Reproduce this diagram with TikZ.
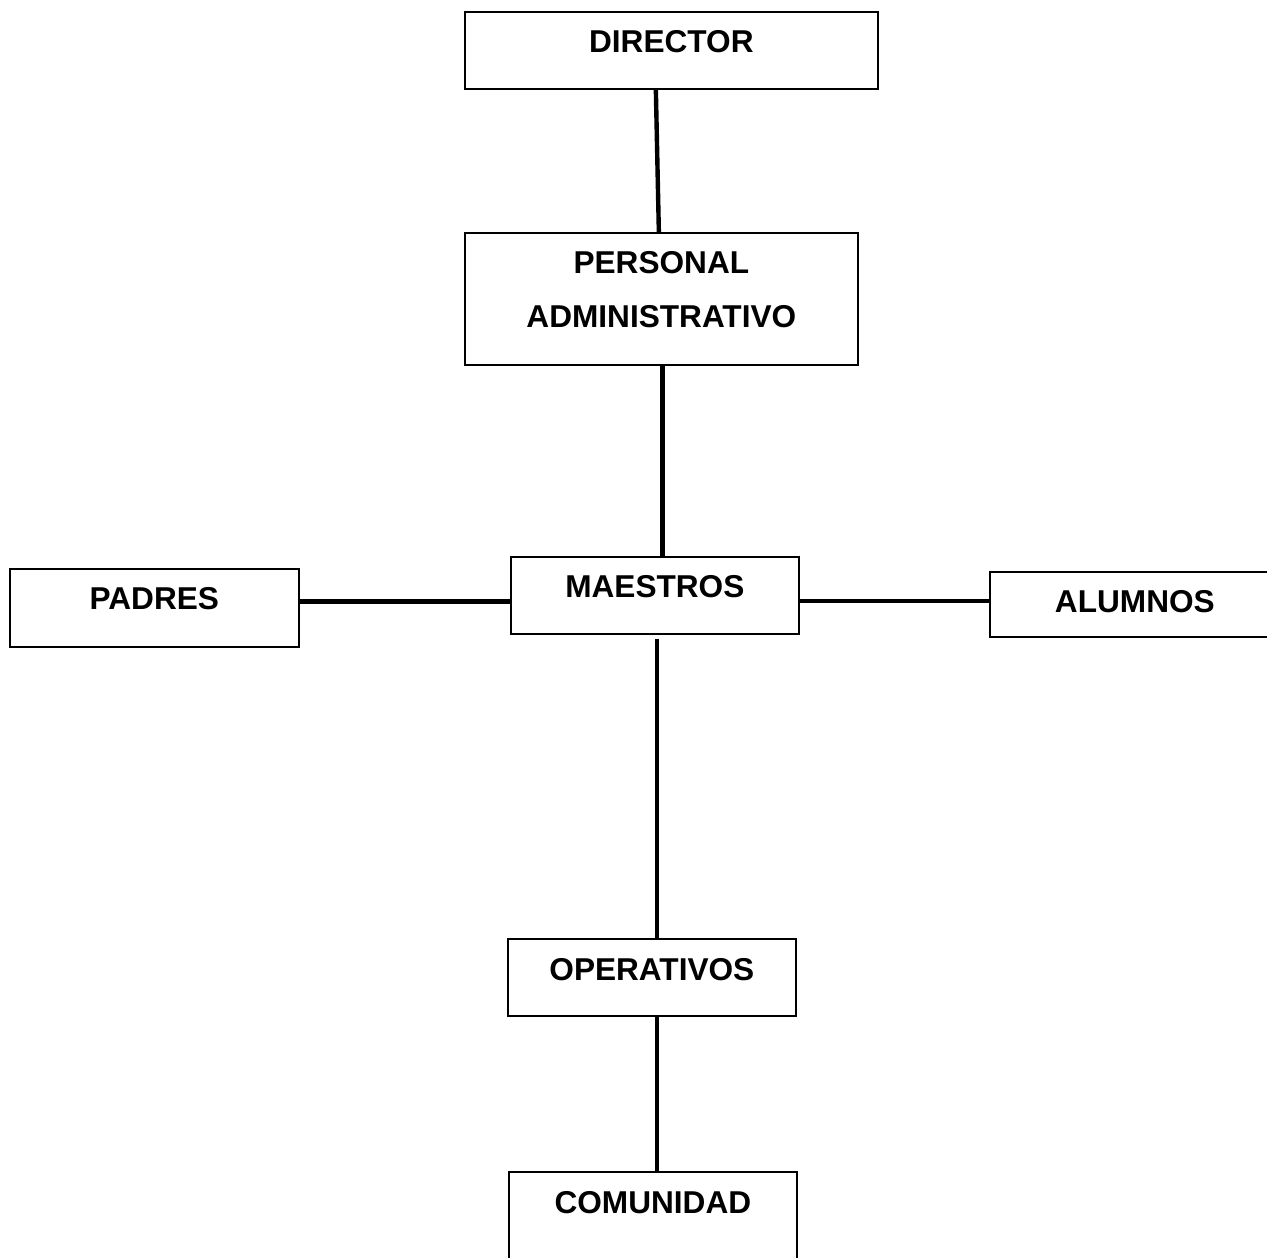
\documentclass[tikz,border=0pt]{standalone}
\usepackage{fontspec}
\setmainfont{Liberation Sans}
\usetikzlibrary{calc}

\begin{document}
\begin{tikzpicture}[
		x=0.5pt, y=-0.5pt,
		block/.style={draw=black, line width=0.85pt, anchor=north west, inner sep=0pt, align=center,
			font=\fontsize{15.8}{27}\selectfont\bfseries, text height=20.5pt, text depth=18pt},
		link/.style={line width=2.2pt}
		]
		\useasboundingbox (0,0) rectangle (1267,1257);
		\clip (0,0) rectangle (1267,1257);

		\node[block, text width=206.5pt] (director) at (464,11) {DIRECTOR};
		\node[block, text width=196.5pt, text depth=45.5pt] (personal) at (464,232) {PERSONAL\\ADMINISTRATIVO};
		\node[block, text width=144pt] (maestros) at (510,556) {MAESTROS};
		\node[block, text width=144.5pt, text depth=18.5pt] (padres) at (9,568) {PADRES};
		\node[block, text width=145pt, text depth=12pt] (alumnos) at (989,571) {ALUMNOS};
		\node[block, text width=144pt, text height=21pt, text depth=17.5pt] (operativos) at (507,938) {OPERATIVOS};
		\node[block, text width=144pt, text height=21pt, text depth=30pt] (comunidad) at (508,1171) {COMUNIDAD};

		\draw[link] ([xshift=-7.75pt]director.south) -- ([xshift=-1.25pt]personal.north);
		\draw[link] ([xshift=0.5pt]personal.south) -- ([xshift=0.5pt]personal.south |- maestros.north);
		\draw[link] ([xshift=1pt,yshift=-2pt]maestros.south) -- ([xshift=1pt]maestros.south |- operativos.north);
		\draw[link] ([xshift=2.5pt]operativos.south) -- ([xshift=2.5pt]operativos.south |- comunidad.north);
		\draw[link] ([yshift=3.25pt]padres.east) -- ([yshift=3.25pt]padres.east -| maestros.west);
		\draw[link] ([yshift=-2.75pt]maestros.east) -- ([yshift=-2.75pt]maestros.east -| alumnos.west);
	\end{tikzpicture}
\end{document}
